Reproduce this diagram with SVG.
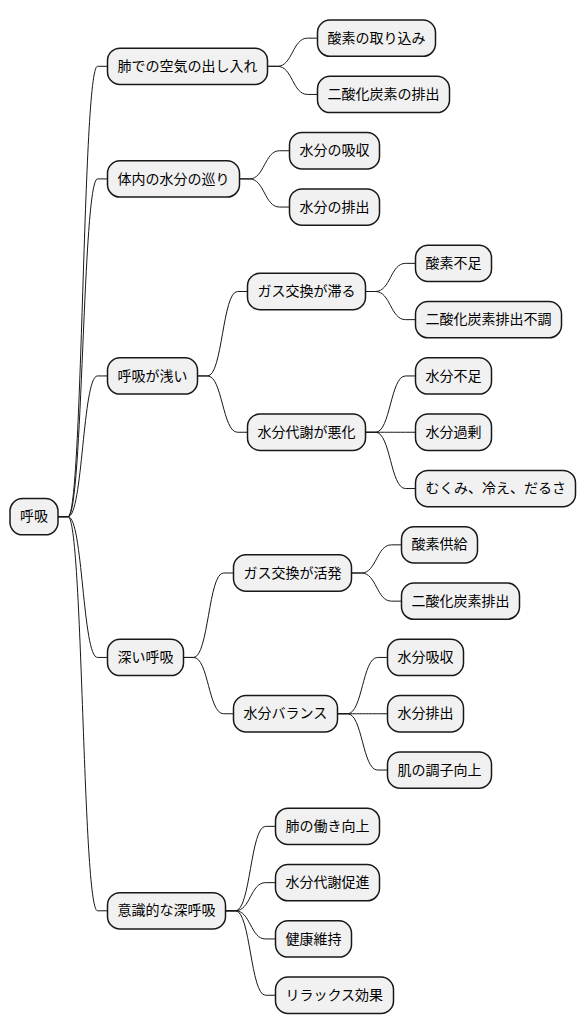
<svg xmlns="http://www.w3.org/2000/svg" width="586" height="1034" viewBox="0 0 586 1034">
<style>
.n rect{fill:#F1F1F1;stroke:#181818;stroke-width:1.5}
.n text{font-family:"Noto Sans CJK JP","Noto Sans CJK SC",sans-serif;font-size:14px;fill:#000000}
#connectors path{fill:none;stroke:#181818;stroke-width:1}
</style>
<rect width="586" height="1034" fill="#FFFFFF"/>
<g id="connectors">
<path d="M58,516.7 L68,516.7 C83,516.7 82.5,66.3 97.5,66.3 L107.5,66.3"/>
<path d="M58,516.7 L68,516.7 C83,516.7 82.5,178.9 97.5,178.9 L107.5,178.9"/>
<path d="M58,516.7 L68,516.7 C83,516.7 82.5,375.95 97.5,375.95 L107.5,375.95"/>
<path d="M58,516.7 L68,516.7 C83,516.7 82.5,657.45 97.5,657.45 L107.5,657.45"/>
<path d="M58,516.7 L68,516.7 C83,516.7 82.5,910.8 97.5,910.8 L107.5,910.8"/>
<path d="M267.5,66.3 L277.5,66.3 C292.5,66.3 292.5,38.15 307.5,38.15 L317.5,38.15"/>
<path d="M267.5,66.3 L277.5,66.3 C292.5,66.3 292.5,94.45 307.5,94.45 L317.5,94.45"/>
<path d="M239.5,178.9 L249.5,178.9 C264.5,178.9 264.5,150.75 279.5,150.75 L289.5,150.75"/>
<path d="M239.5,178.9 L249.5,178.9 C264.5,178.9 264.5,207.05 279.5,207.05 L289.5,207.05"/>
<path d="M197.5,375.95 L207.5,375.95 C222.5,375.95 222.5,291.5 237.5,291.5 L247.5,291.5"/>
<path d="M197.5,375.95 L207.5,375.95 C222.5,375.95 222.5,432.25 237.5,432.25 L247.5,432.25"/>
<path d="M365.5,291.5 L375.5,291.5 C390.5,291.5 390.5,263.35 405.5,263.35 L415.5,263.35"/>
<path d="M365.5,291.5 L375.5,291.5 C390.5,291.5 390.5,319.65 405.5,319.65 L415.5,319.65"/>
<path d="M365.5,432.25 L375.5,432.25 C390.5,432.25 390.5,375.95 405.5,375.95 L415.5,375.95"/>
<path d="M365.5,432.25 L375.5,432.25 C390.5,432.25 390.5,432.25 405.5,432.25 L415.5,432.25"/>
<path d="M365.5,432.25 L375.5,432.25 C390.5,432.25 390.5,488.55 405.5,488.55 L415.5,488.55"/>
<path d="M183.5,657.45 L193.5,657.45 C208.5,657.45 208.5,573 223.5,573 L233.5,573"/>
<path d="M183.5,657.45 L193.5,657.45 C208.5,657.45 208.5,713.75 223.5,713.75 L233.5,713.75"/>
<path d="M351.5,573 L361.5,573 C376.5,573 376.5,544.85 391.5,544.85 L401.5,544.85"/>
<path d="M351.5,573 L361.5,573 C376.5,573 376.5,601.15 391.5,601.15 L401.5,601.15"/>
<path d="M337.5,713.75 L347.5,713.75 C362.5,713.75 362.5,657.45 377.5,657.45 L387.5,657.45"/>
<path d="M337.5,713.75 L347.5,713.75 C362.5,713.75 362.5,713.75 377.5,713.75 L387.5,713.75"/>
<path d="M337.5,713.75 L347.5,713.75 C362.5,713.75 362.5,770.05 377.5,770.05 L387.5,770.05"/>
<path d="M225.5,910.8 L235.5,910.8 C250.5,910.8 250.5,826.35 265.5,826.35 L275.5,826.35"/>
<path d="M225.5,910.8 L235.5,910.8 C250.5,910.8 250.5,882.65 265.5,882.65 L275.5,882.65"/>
<path d="M225.5,910.8 L235.5,910.8 C250.5,910.8 250.5,938.95 265.5,938.95 L275.5,938.95"/>
<path d="M225.5,910.8 L235.5,910.8 C250.5,910.8 250.5,995.25 265.5,995.25 L275.5,995.25"/>
</g>
<g id="root" class="n"><rect x="10" y="498.55" width="48" height="36.3" rx="12.5"/><text x="20" y="521.3">呼吸</text></g>
<g id="n-a" class="n"><rect x="107.5" y="48.15" width="160" height="36.3" rx="12.5"/><text x="117.5" y="70.9">肺での空気の出し入れ</text></g>
<g id="n-a1" class="n"><rect x="317.5" y="20" width="118" height="36.3" rx="12.5"/><text x="327.5" y="42.75">酸素の取り込み</text></g>
<g id="n-a2" class="n"><rect x="317.5" y="76.3" width="132" height="36.3" rx="12.5"/><text x="327.5" y="99.05">二酸化炭素の排出</text></g>
<g id="n-b" class="n"><rect x="107.5" y="160.75" width="132" height="36.3" rx="12.5"/><text x="117.5" y="183.5">体内の水分の巡り</text></g>
<g id="n-b1" class="n"><rect x="289.5" y="132.6" width="90" height="36.3" rx="12.5"/><text x="299.5" y="155.35">水分の吸収</text></g>
<g id="n-b2" class="n"><rect x="289.5" y="188.9" width="90" height="36.3" rx="12.5"/><text x="299.5" y="211.65">水分の排出</text></g>
<g id="n-c" class="n"><rect x="107.5" y="357.8" width="90" height="36.3" rx="12.5"/><text x="117.5" y="380.55">呼吸が浅い</text></g>
<g id="n-c1" class="n"><rect x="247.5" y="273.35" width="118" height="36.3" rx="12.5"/><text x="257.5" y="296.1">ガス交換が滞る</text></g>
<g id="n-c1a" class="n"><rect x="415.5" y="245.2" width="76" height="36.3" rx="12.5"/><text x="425.5" y="267.95">酸素不足</text></g>
<g id="n-c1b" class="n"><rect x="415.5" y="301.5" width="146" height="36.3" rx="12.5"/><text x="425.5" y="324.25">二酸化炭素排出不調</text></g>
<g id="n-c2" class="n"><rect x="247.5" y="414.1" width="118" height="36.3" rx="12.5"/><text x="257.5" y="436.85">水分代謝が悪化</text></g>
<g id="n-c2a" class="n"><rect x="415.5" y="357.8" width="76" height="36.3" rx="12.5"/><text x="425.5" y="380.55">水分不足</text></g>
<g id="n-c2b" class="n"><rect x="415.5" y="414.1" width="76" height="36.3" rx="12.5"/><text x="425.5" y="436.85">水分過剰</text></g>
<g id="n-c2c" class="n"><rect x="415.5" y="470.4" width="160" height="36.3" rx="12.5"/><text x="425.5" y="493.15">むくみ、冷え、だるさ</text></g>
<g id="n-d" class="n"><rect x="107.5" y="639.3" width="76" height="36.3" rx="12.5"/><text x="117.5" y="662.05">深い呼吸</text></g>
<g id="n-d1" class="n"><rect x="233.5" y="554.85" width="118" height="36.3" rx="12.5"/><text x="243.5" y="577.6">ガス交換が活発</text></g>
<g id="n-d1a" class="n"><rect x="401.5" y="526.7" width="76" height="36.3" rx="12.5"/><text x="411.5" y="549.45">酸素供給</text></g>
<g id="n-d1b" class="n"><rect x="401.5" y="583" width="118" height="36.3" rx="12.5"/><text x="411.5" y="605.75">二酸化炭素排出</text></g>
<g id="n-d2" class="n"><rect x="233.5" y="695.6" width="104" height="36.3" rx="12.5"/><text x="243.5" y="718.35">水分バランス</text></g>
<g id="n-d2a" class="n"><rect x="387.5" y="639.3" width="76" height="36.3" rx="12.5"/><text x="397.5" y="662.05">水分吸収</text></g>
<g id="n-d2b" class="n"><rect x="387.5" y="695.6" width="76" height="36.3" rx="12.5"/><text x="397.5" y="718.35">水分排出</text></g>
<g id="n-d2c" class="n"><rect x="387.5" y="751.9" width="104" height="36.3" rx="12.5"/><text x="397.5" y="774.65">肌の調子向上</text></g>
<g id="n-e" class="n"><rect x="107.5" y="892.65" width="118" height="36.3" rx="12.5"/><text x="117.5" y="915.4">意識的な深呼吸</text></g>
<g id="n-e1" class="n"><rect x="275.5" y="808.2" width="104" height="36.3" rx="12.5"/><text x="285.5" y="830.95">肺の働き向上</text></g>
<g id="n-e2" class="n"><rect x="275.5" y="864.5" width="104" height="36.3" rx="12.5"/><text x="285.5" y="887.25">水分代謝促進</text></g>
<g id="n-e3" class="n"><rect x="275.5" y="920.8" width="76" height="36.3" rx="12.5"/><text x="285.5" y="943.55">健康維持</text></g>
<g id="n-e4" class="n"><rect x="275.5" y="977.1" width="118" height="36.3" rx="12.5"/><text x="285.5" y="999.85">リラックス効果</text></g>
</svg>
